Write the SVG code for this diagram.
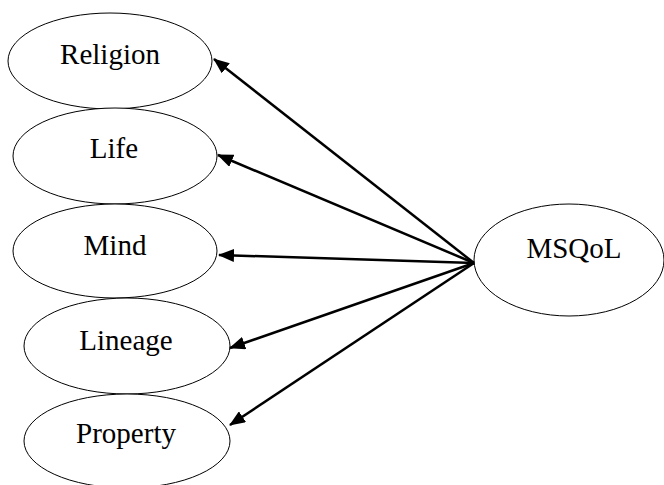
<svg xmlns="http://www.w3.org/2000/svg" width="664" height="485" viewBox="0 0 664 485">
<style>
  .node ellipse { fill: #fff; stroke: #000; stroke-width: 1; }
  .node text { font-family: "Liberation Serif", "Times New Roman", serif; font-size: 29px; fill: #000; text-anchor: middle; }
  .edges line { stroke: #000; stroke-width: 2.5; marker-end: url(#arrow); }
</style>
<defs>
  <marker id="arrow" viewBox="0 0 16 13" refX="15" refY="6.5" markerWidth="6.4" markerHeight="5.2" markerUnits="strokeWidth" orient="auto">
    <path d="M0,0 L16,6.5 L0,13 Z" fill="#000"/>
  </marker>
</defs>
<rect width="664" height="485" fill="#fff"/>
<g id="religion" class="node">
  <ellipse cx="110" cy="61" rx="102" ry="48"/>
  <text x="110" y="64">Religion</text>
</g>
<g id="life" class="node">
  <ellipse cx="115" cy="156" rx="102" ry="48"/>
  <text x="114" y="158">Life</text>
</g>
<g id="mind" class="node">
  <ellipse cx="115" cy="251" rx="102" ry="47"/>
  <text x="115" y="255">Mind</text>
</g>
<g id="lineage" class="node">
  <ellipse cx="127" cy="346" rx="103" ry="48"/>
  <text x="126" y="350">Lineage</text>
</g>
<g id="property" class="node">
  <ellipse cx="127" cy="441" rx="103" ry="47"/>
  <text x="126" y="443">Property</text>
</g>
<g id="msqol" class="node">
  <ellipse cx="569" cy="260" rx="95" ry="56"/>
  <text x="574" y="258">MSQoL</text>
</g>
<g id="connectors" class="edges">
  <line x1="474" y1="263" x2="214" y2="59"/>
  <line x1="474" y1="263" x2="218" y2="155"/>
  <line x1="474" y1="263" x2="219" y2="255"/>
  <line x1="474" y1="263" x2="230" y2="348"/>
  <line x1="474" y1="263" x2="230" y2="425"/>
</g>
</svg>
